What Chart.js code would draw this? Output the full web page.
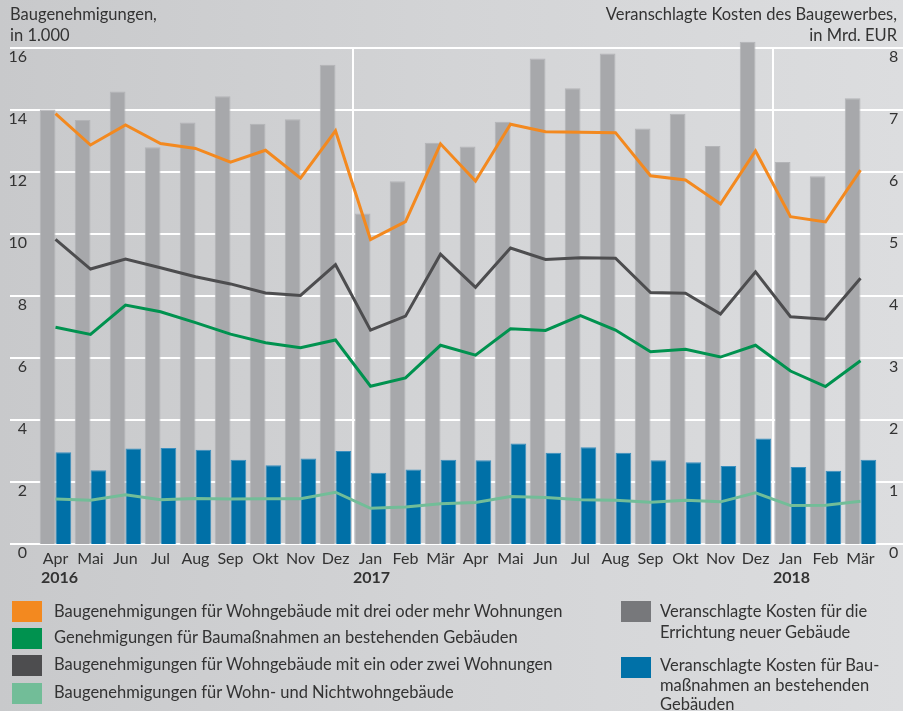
<!DOCTYPE html>
<html lang="de">
<head>
<meta charset="utf-8">
<script src="https://cdn.jsdelivr.net/npm/chart.js@4.4.1/dist/chart.umd.min.js"></script>
<style>
  html, body { margin: 0; padding: 0; }
  body {
    width: 903px; height: 711px; overflow: hidden; position: relative;
    background: linear-gradient(to right, #c8c9cb 0%, #d3d4d6 50%, #dcdddf 100%);
    font-family: "Lato", "Open Sans", sans-serif; color: #333333;
  }
  #wrap { position: absolute; left: 0; top: 0; width: 903px; height: 711px; }
  .t { position: absolute; font-size: 16.5px; line-height: 21px; white-space: nowrap; color: #333; }
  .sq { position: absolute; width: 30px; height: 21px; }
</style>
</head>
<body>
<div id="wrap"><canvas id="c" width="903" height="711"></canvas></div>

<div class="t" style="left:10px; top:4px;">Baugenehmigungen,<br>in 1.000</div>
<div class="t" style="right:6px; top:4px; text-align:right;">Veranschlagte Kosten des Baugewerbes,<br>in Mrd. EUR</div>

<div class="sq" style="left:12px; top:601px; background:#f3891f;"></div>
<div class="t" style="left:54px; top:601px;">Baugenehmigungen für Wohngebäude mit drei oder mehr Wohnungen</div>
<div class="sq" style="left:12px; top:628px; background:#00924f;"></div>
<div class="t" style="left:54px; top:627px;">Genehmigungen für Baumaßnahmen an bestehenden Gebäuden</div>
<div class="sq" style="left:12px; top:655px; background:#4d4d4f;"></div>
<div class="t" style="left:54px; top:654px;">Baugenehmigungen für Wohngebäude mit ein oder zwei Wohnungen</div>
<div class="sq" style="left:12px; top:683px; background:#72bd98;"></div>
<div class="t" style="left:54px; top:682px;">Baugenehmigungen für Wohn- und Nichtwohngebäude</div>

<div class="sq" style="left:621px; top:601px; background:#77787b;"></div>
<div class="t" style="left:660px; top:601px;">Veranschlagte Kosten für die<br>Errichtung neuer Gebäude</div>
<div class="sq" style="left:621px; top:657px; background:#0071a8;"></div>
<div class="t" style="left:660px; top:656px; line-height:19.5px;">Veranschlagte Kosten für Bau-<br>maßnahmen an bestehenden<br>Gebäuden</div>

<script>
// ---- data ----
const months = ['Apr','Mai','Jun','Jul','Aug','Sep','Okt','Nov','Dez','Jan','Feb','Mär',
                'Apr','Mai','Jun','Jul','Aug','Sep','Okt','Nov','Dez','Jan','Feb','Mär'];
const yearLabels = ['2016','2017','2018'];
const yearStartIndex = [0, 9, 21];

// Mrd. EUR (right axis)
const costNewBuildings = [7.01,6.84,7.30,6.40,6.80,7.22,6.78,6.85,7.73,5.33,5.85,6.47,
                          6.41,6.81,7.83,7.35,7.91,6.70,6.94,6.42,8.10,6.16,5.93,7.19];
const costExistingBuildings = [1.48,1.19,1.54,1.55,1.52,1.36,1.27,1.38,1.50,1.15,1.20,1.36,
                               1.35,1.62,1.47,1.56,1.47,1.35,1.32,1.26,1.70,1.24,1.18,1.36];
// in 1.000 (left axis)
const permitsThreePlus = [13.88,12.87,13.52,12.92,12.76,12.32,12.70,11.80,13.33,9.82,10.40,12.91,
                          11.71,13.54,13.30,13.28,13.27,11.88,11.74,10.97,12.68,10.56,10.39,12.06];
const permitsExisting = [6.99,6.76,7.71,7.49,7.14,6.77,6.49,6.33,6.58,5.09,5.36,6.41,
                         6.09,6.94,6.89,7.37,6.90,6.20,6.28,6.03,6.41,5.58,5.08,5.91];
const permitsOneTwo = [9.83,8.87,9.19,8.91,8.62,8.39,8.10,8.02,9.01,6.90,7.35,9.35,
                       8.28,9.55,9.18,9.23,9.22,8.11,8.09,7.42,8.78,7.33,7.25,8.57];
const permitsResNonRes = [1.45,1.41,1.59,1.43,1.47,1.45,1.46,1.46,1.67,1.15,1.19,1.30,
                          1.34,1.53,1.50,1.43,1.41,1.35,1.41,1.36,1.65,1.24,1.25,1.38];

const FONT = '"Lato", "Open Sans", sans-serif';
const TEXT = '#333333';

const extras = {
  id: 'extras',
  beforeDatasetsDraw(chart) {
    const ctx = chart.ctx, ca = chart.chartArea;
    const y = chart.scales.y, x = chart.scales.x;
    ctx.save();
    ctx.strokeStyle = '#ffffff';
    ctx.lineWidth = 2;
    y.ticks.forEach(t => {
      const py = Math.round(y.getPixelForValue(t.value));
      ctx.beginPath();
      ctx.moveTo(10, py); ctx.lineTo(ca.left, py);
      ctx.moveTo(ca.right, py); ctx.lineTo(chart.width, py);
      ctx.stroke();
    });
    const half = (x.getPixelForValue(1) - x.getPixelForValue(0)) / 2;
    yearStartIndex.forEach(i => {
      if (i === 0) return;
      const px = Math.round(x.getPixelForValue(i) - half);
      ctx.beginPath();
      ctx.moveTo(px, ca.top); ctx.lineTo(px, ca.bottom);
      ctx.stroke();
    });
    ctx.restore();
  },
  afterDraw(chart) {
    const ctx = chart.ctx, x = chart.scales.x;
    const half = (x.getPixelForValue(1) - x.getPixelForValue(0)) / 2;
    ctx.save();
    ctx.font = 'bold 16px ' + FONT;
    ctx.fillStyle = TEXT;
    ctx.textBaseline = 'middle';
    ctx.textAlign = 'left';
    yearLabels.forEach((lab, k) => {
      const i = yearStartIndex[k];
      const px = x.getPixelForValue(i) - half + (i === 0 ? 3 : 0);
      ctx.fillText(lab, px, 578);
    });
    ctx.restore();
  }
};

new Chart(document.getElementById('c'), {
  data: {
    labels: months,
    datasets: [
      { type: 'line', label: 'Baugenehmigungen für Wohngebäude mit drei oder mehr Wohnungen',
        data: permitsThreePlus, yAxisID: 'y', borderColor: '#f3891f', borderWidth: 3,
        pointRadius: 0, tension: 0, order: 1 },
      { type: 'line', label: 'Genehmigungen für Baumaßnahmen an bestehenden Gebäuden',
        data: permitsExisting, yAxisID: 'y', borderColor: '#00924f', borderWidth: 3,
        pointRadius: 0, tension: 0, order: 1 },
      { type: 'line', label: 'Baugenehmigungen für Wohngebäude mit ein oder zwei Wohnungen',
        data: permitsOneTwo, yAxisID: 'y', borderColor: '#4d4d4f', borderWidth: 3,
        pointRadius: 0, tension: 0, order: 1 },
      { type: 'line', label: 'Baugenehmigungen für Wohn- und Nichtwohngebäude',
        data: permitsResNonRes, yAxisID: 'y', borderColor: '#72bd98', borderWidth: 3,
        pointRadius: 0, tension: 0, order: 1 },
      { type: 'bar', label: 'Veranschlagte Kosten für die Errichtung neuer Gebäude',
        data: costNewBuildings, yAxisID: 'y2', backgroundColor: '#a7a8ab',
        borderColor: '#b3b4b7', borderWidth: 1, borderSkipped: 'bottom',
        categoryPercentage: 0.9, barPercentage: 1.0, clip: false, order: 2 },
      { type: 'bar', label: 'Veranschlagte Kosten für Baumaßnahmen an bestehenden Gebäuden',
        data: costExistingBuildings, yAxisID: 'y2', backgroundColor: '#0070a7',
        borderColor: '#3b8fbf', borderWidth: 1, borderSkipped: 'bottom',
        categoryPercentage: 0.9, barPercentage: 1.0, clip: false, order: 2 }
    ]
  },
  options: {
    responsive: false,
    animation: false,
    events: [],
    layout: { padding: { top: 48, left: 0, right: 0, bottom: 127 } },
    plugins: { legend: { display: false }, tooltip: { enabled: false }, title: { display: false } },
    scales: {
      x: {
        type: 'category',
        offset: true,
        grid: { display: false, drawTicks: false },
        border: { display: false },
        ticks: { color: TEXT, font: { family: FONT, size: 16 }, maxRotation: 0, autoSkip: false, padding: 5 },
        afterFit(s) { s.height = 40; }
      },
      y: {
        position: 'left',
        min: 0, max: 16,
        grid: { color: '#ffffff', lineWidth: 2, drawTicks: false },
        border: { display: false },
        ticks: { stepSize: 2, color: TEXT, font: { family: FONT, size: 16 }, padding: 11, labelOffset: 9 },
        afterFit(s) { s.width = 38; }
      },
      y2: {
        position: 'right',
        min: 0, max: 8,
        grid: { display: false, drawTicks: false },
        border: { display: false },
        ticks: { stepSize: 1, color: TEXT, font: { family: FONT, size: 16 }, padding: 11, labelOffset: 9 },
        afterFit(s) { s.width = 25; }
      }
    }
  },
  plugins: [extras]
});
</script>
</body>
</html>
